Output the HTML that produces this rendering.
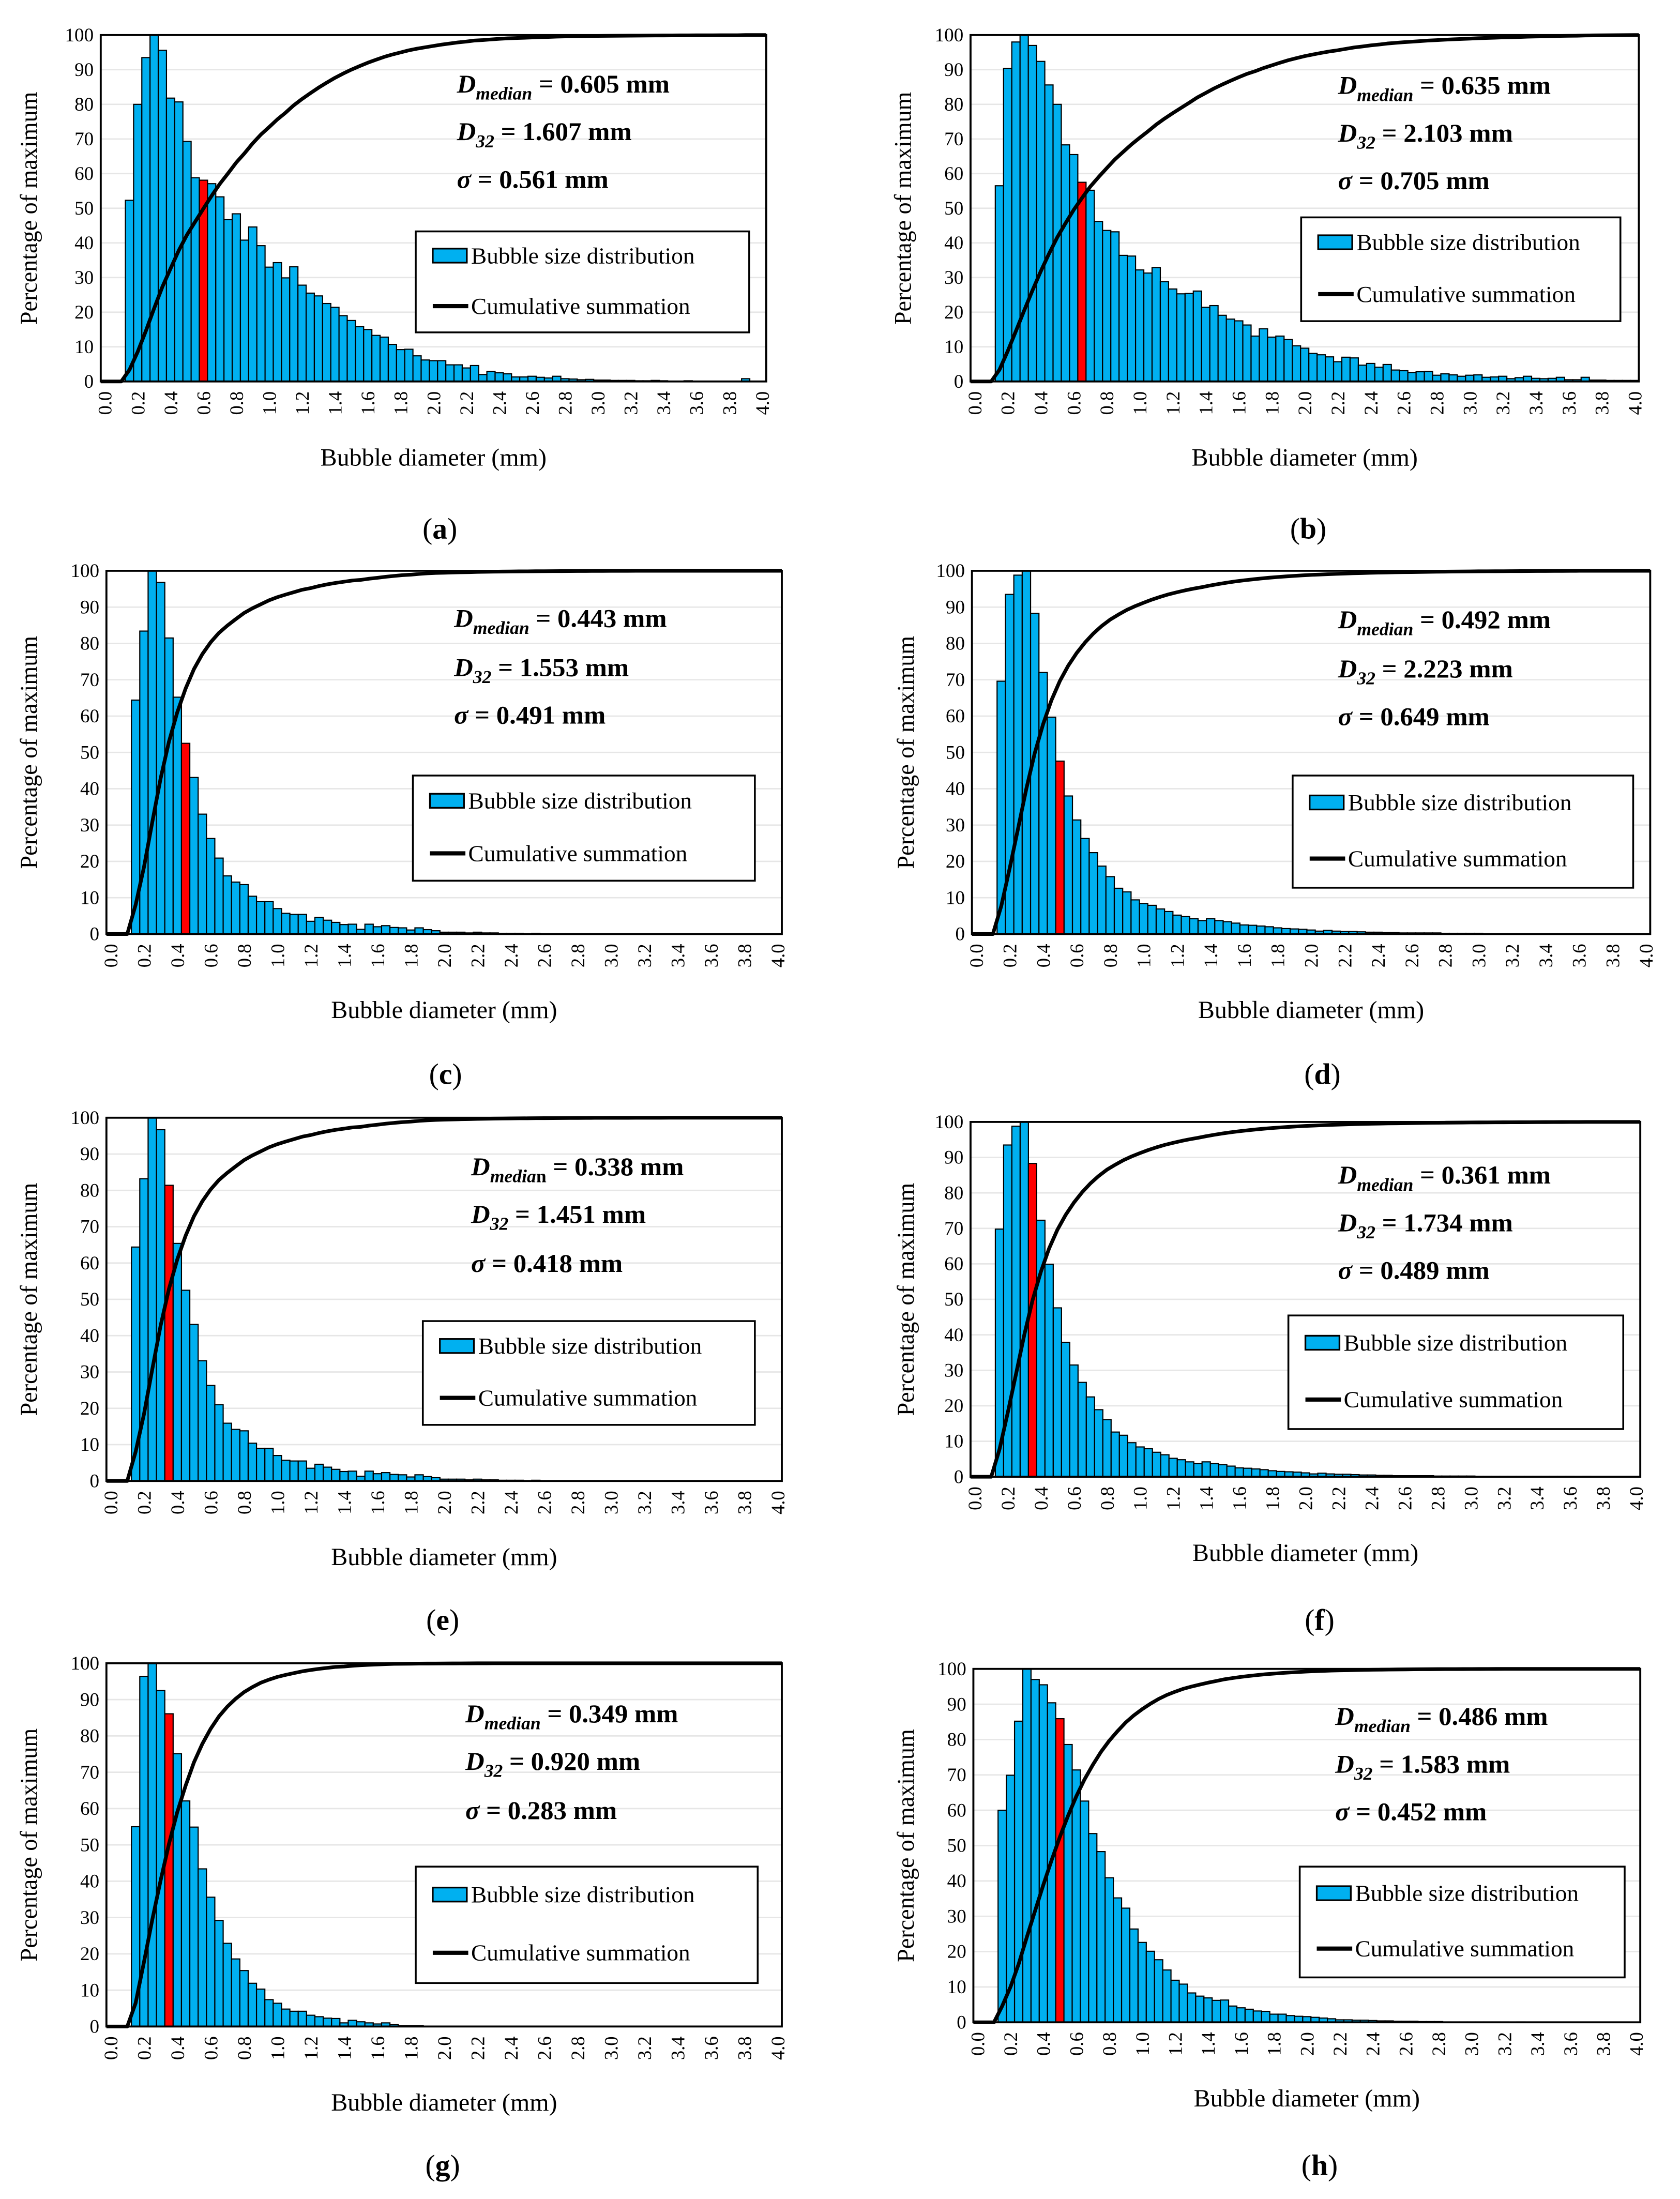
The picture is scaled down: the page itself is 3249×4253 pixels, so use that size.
<!DOCTYPE html>
<html><head><meta charset="utf-8"><style>
html,body{margin:0;padding:0;background:#fff;}
svg{display:block;font-family:"Liberation Serif",serif;}
</style></head><body>
<svg id="fig" xmlns="http://www.w3.org/2000/svg" width="3249" height="4253" viewBox="0 0 1184 1568" preserveAspectRatio="none"></svg>
<script>
const xTickLabels = ['0.0','0.2','0.4','0.6','0.8','1.0','1.2','1.4','1.6','1.8','2.0','2.2','2.4','2.6','2.8','3.0','3.2','3.4','3.6','3.8','4.0'];
const yTickLabels = [0,10,20,30,40,50,60,70,80,90,100];
const valuesA = [0,0,0,52.3,80,93.5,100,95.6,81.8,80.7,69.3,58.8,58.1,57.1,53.3,46.7,48.4,40.8,44.6,39.2,33,34.3,29.9,33.1,27.8,25.5,24.7,22.5,21.4,19,17.6,15.8,15,13.3,12.8,10.7,9.2,9.3,7.4,6.2,6,6,4.8,4.8,3.9,4.6,2,2.9,2.5,2.2,1.3,1.3,1.5,1.2,1,1.5,0.8,0.7,0.5,0.6,0.4,0.4,0.3,0.3,0.3,0.2,0.2,0.3,0.2,0.1,0.1,0.2,0.1,0.1,0.1,0.1,0,0.1,0.8,0,0];
const valuesB = [0,0,0,56.5,90.4,98,100,97,92.4,85.6,80,68.3,65.5,57.5,55.2,46.2,43.6,43.2,36.4,36.2,32.2,31.3,32.9,28.8,26.7,25.3,25.4,26.1,21.4,21.9,19.1,18,17.5,16.3,13.1,15.2,12.8,13.1,12.1,10.3,9.6,8.1,7.7,7.1,5.7,7,6.8,4.7,5.2,4.1,4.9,3.3,3.1,2.6,2.8,2.9,1.8,2.2,1.9,1.5,1.8,1.9,1.2,1.3,1.5,0.8,1.1,1.5,0.9,0.8,0.9,1.2,0.5,0.5,1.2,0.4,0.4,0.3,0.3,0.3,0.3];
const valuesC = [0,0,0,64.4,83.4,100,96.8,81.5,65.2,52.5,43.1,33,26.3,20.9,16,14.3,13.6,10.4,8.9,8.9,7,5.7,5.4,5.4,3.5,4.6,3.8,3.2,2.6,2.7,1.3,2.7,2,2.3,1.8,1.7,1.1,1.7,1.2,0.9,0.5,0.5,0.5,0.3,0.5,0.3,0.3,0.2,0.2,0.2,0.1,0.2,0.1,0.1,0.1,0.1,0.1,0.1,0.1,0,0.1,0,0,0.1,0,0,0,0.1,0,0,0,0,0,0,0,0,0,0,0,0,0];
const valuesD = [0,0,0,69.6,93.5,98.8,100,88.3,72,59.7,47.6,38,31.4,26.3,22.4,18.7,15.8,12.6,11.6,9.4,8.4,7.9,6.9,6.2,5.2,4.8,4.2,3.7,4.2,3.7,3.4,3,2.5,2.4,2.2,2,1.7,1.5,1.4,1.3,1.1,0.8,1,0.8,0.7,0.7,0.6,0.5,0.5,0.4,0.4,0.3,0.3,0.3,0.3,0.3,0.2,0.2,0.2,0.2,0.2,0.1,0.1,0.1,0.1,0.1,0.1,0.1,0.1,0.1,0.1,0.1,0.1,0,0.1,0,0,0,0,0,0];
const valuesE = [0,0,0,64.4,83.2,100,96.7,81.4,65.4,52.5,43.1,33.1,26.3,21,15.9,14.2,13.8,10.4,9,9,7,5.7,5.5,5.5,3.5,4.6,3.8,3.2,2.6,2.7,1.3,2.7,2,2.3,1.8,1.7,1.1,1.7,1.2,0.9,0.5,0.5,0.5,0.3,0.5,0.3,0.3,0.2,0.2,0.2,0.1,0.2,0.1,0.1,0.1,0.1,0.1,0.1,0.1,0,0.1,0,0,0.1,0,0,0,0.1,0,0,0,0,0,0,0,0,0,0,0,0,0];
const valuesF = [0,0,0,69.8,93.5,98.8,100,88.3,72.3,59.9,47.6,37.9,31.5,26.6,22.5,18.9,16.1,12.6,11.7,9.6,8.4,7.9,6.9,6.2,5.2,4.8,4.2,3.7,4.2,3.7,3.4,3,2.5,2.4,2.2,2,1.7,1.5,1.4,1.3,1.1,0.8,1,0.8,0.7,0.7,0.6,0.5,0.5,0.4,0.4,0.3,0.3,0.3,0.3,0.3,0.2,0.2,0.2,0.2,0.2,0.1,0.1,0.1,0.1,0.1,0.1,0.1,0.1,0.1,0.1,0.1,0.1,0,0.1,0,0,0,0,0,0];
const valuesG = [0,0,0,55,96.4,100,92.5,86.1,75.1,62.1,54.9,43.4,35.6,29.2,22.9,18.6,15.4,11.9,10.3,7.4,6.4,4.8,4.2,4.2,3.1,2.7,2.3,2.2,1,1.7,1.3,1,0.7,1,0.5,0.2,0.2,0.2,0.1,0.1,0.1,0.1,0.1,0.1,0.1,0,0.1,0,0,0,0,0,0,0,0,0,0,0,0,0,0,0,0,0,0,0,0,0,0,0,0,0,0,0,0,0,0,0,0,0,0];
const valuesH = [0,0,0,60,69.9,85.2,100,97,95.5,90.4,85.9,78.6,71.4,62.6,53.4,48.3,40.9,35.2,32.3,26.4,22.6,20.1,17.7,14.8,11.9,10.8,8.3,7.4,6.9,6.2,6.3,4.6,4.1,3.7,3.2,3.1,2.3,2.3,1.9,1.7,1.6,1.4,1.2,1,0.7,0.7,0.6,0.6,0.5,0.4,0.4,0.3,0.3,0.3,0.2,0.2,0.2,0.1,0.1,0.1,0.1,0.1,0.1,0.1,0.1,0,0.1,0,0,0,0,0,0,0,0,0,0,0,0,0,0];
const medianIndex = [12,13,9,10,7,7,7,10];
const medianText = ['0.605','0.635','0.443','0.492','0.338','0.361','0.349','0.486'];
const d32Text = ['1.607','2.103','1.553','2.223','1.451','1.734','0.920','1.583'];
const sigmaText = ['0.561','0.705','0.491','0.649','0.418','0.489','0.283','0.452'];
const allValues = [valuesA,valuesB,valuesC,valuesD,valuesE,valuesF,valuesG,valuesH];

const layout = [
 {id:'a',L:71,R:540,T:25,B:272,ax:322,ay:[66,100,134],lg:[293,165,235,72],yt:20,lx:310,ly:384},
 {id:'b',L:684,R:1155,T:25,B:272,ax:943,ay:[67,101,135],lg:[917,155,225,74],yt:636,lx:922,ly:384},
 {id:'c',L:75,R:551,T:407,B:666,ax:320,ay:[447,482,516],lg:[291,553,241,75],yt:20,lx:314,ly:773},
 {id:'d',L:685,R:1163,T:407,B:666,ax:943,ay:[448,483,517],lg:[911,553,240,80],yt:638,lx:932,ly:773},
 {id:'e',L:75,R:551,T:797,B:1056,ax:332,ay:[838,872,907],lg:[298,942,234,74],yt:20,lx:312,ly:1162},
 {id:'f',L:684,R:1156,T:800,B:1053,ax:943,ay:[844,878,912],lg:[908,938,236,81],yt:638,lx:930,ly:1162},
 {id:'g',L:75,R:551,T:1186,B:1445,ax:328,ay:[1228,1262,1297],lg:[293,1331,241,83],yt:20,lx:312,ly:1551},
 {id:'h',L:686,R:1156,T:1190,B:1442,ax:941,ay:[1230,1264,1298],lg:[916,1331,229,79],yt:638,lx:930,ly:1551}
];
const NS='http://www.w3.org/2000/svg';
const svg=document.getElementById('fig');
function mk(tag,attrs,parent){const e=document.createElementNS(NS,tag);for(const k in attrs)e.setAttribute(k,attrs[k]);parent.appendChild(e);return e;}
const NCAT=81;
layout.forEach((p,pi)=>{
  const vals=allValues[pi];
  const g=mk('g',{},svg);
  
  
  const cw=(p.R-p.L)/NCAT;
  const xc=i=>p.L+(i+0.5)*cw;
  const ys=v=>p.B-(v/100)*(p.B-p.T);
  yTickLabels.forEach(t=>{
    if(t>0&&t<100){const gl=mk('line',{x1:p.L,x2:p.R,y1:ys(t),y2:ys(t),stroke:'#e6e6e6','stroke-width':1},g);
      
      }
    const tl=mk('text',{x:p.L-5,y:ys(t)+4.5,'text-anchor':'end','font-size':13.5},g);
    tl.textContent=t;
    
    
  });
  for(let i=0;i<NCAT;i++){
    const v=vals[i]||0; if(v<=0) continue;
    const b=mk('rect',{x:p.L+i*cw,y:ys(v),width:cw,height:p.B-ys(v),fill:i===medianIndex[pi]?'#ff0000':'#00b0f0',stroke:'#000','stroke-width':0.8},g);
    
    
  }
  let total=0;for(let i=0;i<NCAT;i++)total+=vals[i]||0;
  let cum=0;const pts=[[p.L,p.B]];
  for(let i=0;i<NCAT;i++){cum+=vals[i]||0;pts.push([xc(i),ys(cum/total*100)]);}
  pts.push([p.R,ys(100)]);
  const cl=mk('polyline',{points:pts.map(q=>q[0].toFixed(2)+','+q[1].toFixed(2)).join(' '),fill:'none',stroke:'#000','stroke-width':2.6,'stroke-linejoin':'round'},g);
  
  
  const fr=mk('rect',{x:p.L,y:p.T,width:p.R-p.L,height:p.B-p.T,fill:'none',stroke:'#000','stroke-width':1.4},g);
  
  
  xTickLabels.forEach((t,k)=>{
    const x=xc(k*4),y=p.B+7;
    const tx=mk('text',{x:x,y:y,'text-anchor':'end',dy:'0.35em','font-size':13.5,transform:'rotate(-90 '+x+' '+y+')'},g);
    tx.textContent=t;
    
    
  });
  const xt=mk('text',{x:(p.L+p.R)/2,y:p.B+60,'text-anchor':'middle','font-size':17.5},g);
  xt.textContent='Bubble diameter (mm)';
  
  
  const ym=(p.T+p.B)/2;
  const yt=mk('text',{x:p.yt,y:ym,'text-anchor':'middle',dy:'0.35em','font-size':17,transform:'rotate(-90 '+p.yt+' '+ym+')'},g);
  yt.textContent='Percentage of maximum';
  
  
  const a1=mk('text',{x:p.ax,y:p.ay[0],'font-size':18.5,'font-weight':'bold'},g);
  
  
  let s=mk('tspan',{'font-style':'italic'},a1);s.textContent='D';
  if(p.id==='e'){
    s=mk('tspan',{'font-style':'italic','font-size':13,dy:5},a1);s.textContent='media';
    s=mk('tspan',{'font-size':13},a1);s.textContent='n';
  }else{s=mk('tspan',{'font-style':'italic','font-size':13,dy:5},a1);s.textContent='median';}
  s=mk('tspan',{dy:-5},a1);s.textContent=' = '+medianText[pi]+' mm';
  const a2=mk('text',{x:p.ax,y:p.ay[1],'font-size':18.5,'font-weight':'bold'},g);
  
  
  s=mk('tspan',{'font-style':'italic'},a2);s.textContent='D';
  s=mk('tspan',{'font-style':'italic','font-size':13,dy:5},a2);s.textContent='32';
  s=mk('tspan',{dy:-5},a2);s.textContent=' = '+d32Text[pi]+' mm';
  const a3=mk('text',{x:p.ax,y:p.ay[2],'font-size':18.5,'font-weight':'bold'},g);
  
  
  s=mk('tspan',{'font-style':'italic'},a3);s.textContent='σ';
  s=mk('tspan',{},a3);s.textContent=' = '+sigmaText[pi]+' mm';
  const [lx,ly,lw,lh]=p.lg;
  const lgG=mk('g',{},g);
  
  
  mk('rect',{x:lx,y:ly,width:lw,height:lh,fill:'#fff',stroke:'#000','stroke-width':1.3},lgG);
  const r1=ly+lh*0.24, r2=ly+lh*0.74;
  const sw=mk('rect',{x:lx+12,y:r1-5,width:24,height:10,fill:'#00b0f0',stroke:'#000','stroke-width':1.2},lgG);
  
  
  const t1=mk('text',{x:lx+39,y:r1+5.5,'font-size':16.5},lgG);
  t1.textContent='Bubble size distribution';
  
  
  const ln=mk('line',{x1:lx+12,x2:lx+37,y1:r2,y2:r2,stroke:'#000','stroke-width':3},lgG);
  
  
  const t2=mk('text',{x:lx+39,y:r2+5.5,'font-size':16.5},lgG);
  t2.textContent='Cumulative summation';
  
  
  const pl=mk('text',{x:p.lx,y:p.ly,'text-anchor':'middle','font-size':21},g);
  
  
  s=mk('tspan',{},pl);s.textContent='(';
  s=mk('tspan',{'font-weight':'bold'},pl);s.textContent=p.id;
  s=mk('tspan',{},pl);s.textContent=')';
});
</script>
</body></html>
